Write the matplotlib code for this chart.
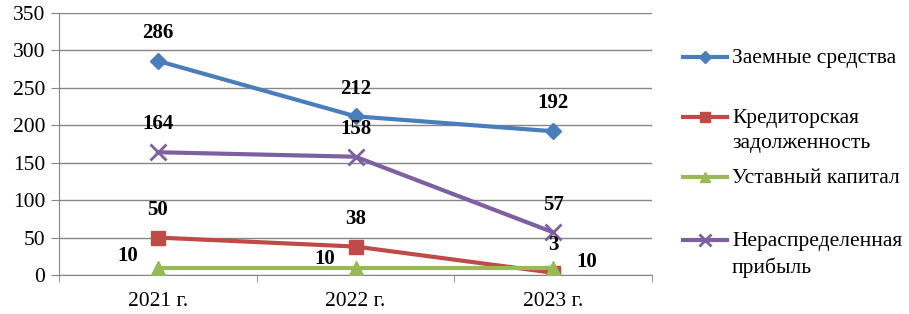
import matplotlib.pyplot as plt
from matplotlib.lines import Line2D

plt.rcParams['font.family'] = ['Liberation Serif', 'DejaVu Serif']

years = ["2021 г.", "2022 г.", "2023 г."]
borrowed = [286, 212, 192]
payables = [50, 38, 3]
capital = [10, 10, 10]
retained = [164, 158, 57]

names = ["Заемные средства", "Кредиторская\nзадолженность",
         "Уставный капитал", "Нераспределенная\nприбыль"]
colors = ["#4A7EBB", "#BE4B48", "#98B954", "#7D60A0"]
markers = ["D", "s", "^", "x"]
msizes = [8, 10, 10, 11]

# label offsets in points (dx, dy) for each series / point
offsets = [
    [(0, 20), (0, 20), (0, 20)],
    [(0, 20), (0, 20), (0, 20)],
    [(-22, 8), (-22, 6), (24, 4)],
    [(0, 20), (0, 20), (0, 20)],
]

series = [borrowed, payables, capital, retained]

fig = plt.figure(figsize=(9.09, 3.14), dpi=100)
ax = fig.add_axes([59 / 909, 1 - 275 / 314, 593 / 909, 262 / 314])

x = list(range(len(years)))
for vals, c, m, ms in zip(series, colors, markers, msizes):
    ax.plot(x, vals, color=c, lw=3, marker=m, ms=ms, mew=2 if m == "x" else 1,
            mec=c, mfc=c, zorder=3)

for vals, offs in zip(series, offsets):
    for xi, v, (dx, dy) in zip(x, vals, offs):
        ax.annotate(str(v), (xi, v), xytext=(dx, dy), textcoords="offset points",
                    ha="center", va="center", fontsize=15, fontweight="bold", zorder=5)

ax.set_xlim(-0.5, 2.5)
ax.set_ylim(0, 350)
ax.set_yticks(range(0, 351, 50))
ax.set_xticks(x)
ax.set_xticklabels(years)
ax.set_xticks([-0.5, 0.5, 1.5, 2.5], minor=True)
ax.tick_params(axis="x", which="major", length=0, labelsize=15.5, pad=12)
ax.tick_params(axis="x", which="minor", length=5, color="#868686", direction="out")
ax.tick_params(axis="y", length=6, color="#868686", labelsize=15.5, pad=4)
ax.grid(axis="y", color="#868686", lw=1)
ax.set_axisbelow(True)
for s in ["top", "right"]:
    ax.spines[s].set_visible(False)
for s in ["left", "bottom"]:
    ax.spines[s].set_color("#868686")

# legend drawn by hand so the marker lines up with the first text line
leg_y = [57, 117, 177, 240]
for name, c, m, ms, y in zip(names, colors, markers, msizes, leg_y):
    fy = 1 - y / 314
    fig.add_artist(Line2D([683 / 909, 727 / 909], [fy, fy], color=c, lw=3,
                          transform=fig.transFigure))
    fig.add_artist(Line2D([705 / 909], [fy], color=c, marker=m, ms=ms * 0.75,
                          mew=2 if m == "x" else 1, transform=fig.transFigure))
    fig.text(732 / 909, fy + 8 / 314, name, fontsize=15.5, va="top", ha="left",
             linespacing=1.4)

fig.savefig("out.png", dpi=100)
